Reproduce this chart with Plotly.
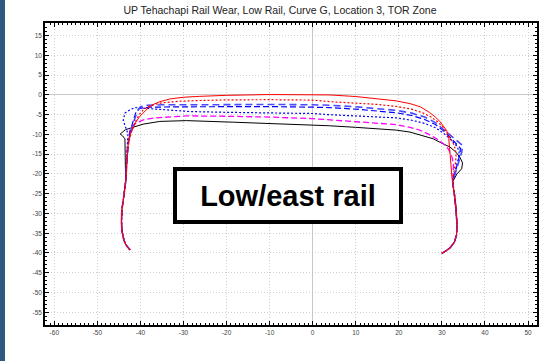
import plotly.graph_objects as go

TITLE = "UP Tehachapi Rail Wear, Low Rail, Curve G, Location 3, TOR Zone"
LABEL = "Low/east rail"

X_TICKS = [-60, -50, -40, -30, -20, -10, 0, 10, 20, 30, 40, 50]
Y_TICKS = [-55, -50, -45, -40, -35, -30, -25, -20, -15, -10, -5, 0, 5, 10, 15]

# shared gage/field side lower portions
LEFT_FOOT_X = [-42.4, -43.2, -43.8, -44.3, -44.4, -44.3, -44.0, -43.7, -43.4]
LEFT_FOOT_Y = [-39.2, -38.2, -36.9, -34.4, -32.0, -29.0, -26.8, -24.0, -21.7]
RIGHT_FOOT_X = [32.5, 32.9, 33.3, 33.5, 33.4, 32.9, 31.9, 30.9, 30.0]
RIGHT_FOOT_Y = [-22.0, -25.0, -29.0, -33.0, -35.5, -37.3, -38.7, -39.5, -40.1]

# head profiles (left side top -> across -> right side)
RED_SOLID_X = [-43.2, -43.0, -42.8, -42.3, -41.7, -41.0, -40.2, -39.3, -38.2, -37.0, -35.5, -33.1, -30.1, -26.2,
               -20.0, -10.0, 0.0, 4.0, 10.0, 14.5, 19.4, 22.6, 25.0, 27.1, 28.5, 29.6, 30.4, 31.1, 31.6, 31.9, 32.1, 32.3]
RED_SOLID_Y = [-18.0, -15.0, -11.6, -9.8, -8.2, -6.8, -5.5, -4.4, -3.3, -2.4, -1.7, -1.0, -0.6, -0.35,
               -0.1, 0.1, 0.1, 0.0, -0.4, -0.9, -1.5, -2.2, -3.0, -4.4, -5.6, -6.8, -7.9, -9.0, -11.0, -14.1, -17.5, -20.5]

RED_DOT_X = [-43.2, -43.0, -42.6, -42.0, -41.2, -40.3, -39.2, -37.5, -35.0, -31.0, -26.0, -20.0, -10.0, 0.0, 4.0,
             10.0, 15.0, 19.4, 23.0, 25.5, 27.5, 29.0, 30.3, 31.3, 32.2, 32.9, 33.3, 33.2, 32.8, 32.5]
RED_DOT_Y = [-18.0, -14.5, -11.5, -9.0, -6.8, -5.0, -3.6, -2.6, -2.0, -1.6, -1.4, -1.25, -1.2, -1.3, -1.7,
             -2.0, -2.4, -2.9, -3.6, -4.5, -5.6, -6.8, -8.2, -9.6, -11.2, -12.8, -14.8, -17.0, -19.5, -21.5]

BLUE_DASH_A_X = [-43.2, -43.0, -42.6, -42.0, -41.4, -40.8, -40.0, -38.5, -35.0, -28.0, -20.0, -10.0, 0.0, 3.9,
                 10.0, 15.0, 19.4, 23.0, 26.0, 28.5, 30.5, 32.3, 33.8, 34.8, 34.6, 34.0, 33.3, 32.7]
BLUE_DASH_A_Y = [-18.0, -14.0, -11.0, -8.5, -6.3, -4.3, -3.0, -2.6, -2.5, -2.5, -2.4, -2.4, -2.5, -2.6,
                 -3.0, -3.4, -3.9, -4.6, -5.6, -7.0, -8.8, -10.5, -12.0, -12.8, -14.5, -16.5, -18.8, -20.8]

BLUE_DASH_B_X = [-43.2, -43.0, -42.7, -42.2, -41.6, -41.0, -40.2, -38.0, -30.0, -20.0, -10.0, 0.0, 3.9,
                 10.0, 15.0, 19.4, 23.0, 26.0, 28.5, 30.5, 32.2, 33.6, 34.3, 34.2, 33.7, 33.1, 32.6]
BLUE_DASH_B_Y = [-18.0, -14.0, -11.0, -8.5, -6.0, -4.2, -3.4, -3.1, -3.0, -2.95, -2.95, -3.1, -3.2,
                 -3.6, -4.0, -4.5, -5.2, -6.2, -7.5, -9.2, -11.0, -12.5, -13.5, -15.0, -17.0, -19.2, -21.0]

BLUE_DOT_X = [-43.3, -43.1, -42.9, -42.9, -43.5, -44.0, -43.6, -42.5, -41.3, -40.0, -37.0, -33.0, -28.5, -20.0,
              -10.0, 0.0, 3.9, 10.0, 19.4, 23.0, 26.0, 28.5, 30.5, 32.2, 33.5, 34.0, 33.9, 33.5, 33.0, 32.6]
BLUE_DOT_Y = [-18.0, -14.0, -11.5, -9.8, -8.0, -6.5, -4.6, -3.8, -3.2, -3.3, -3.6, -3.9, -4.2, -4.4,
              -4.5, -4.7, -5.0, -5.3, -5.8, -6.4, -7.2, -8.3, -9.8, -11.4, -13.0, -14.3, -15.8, -17.5, -19.5, -21.0]

MAGENTA_X = [-43.3, -43.1, -42.6, -42.4, -41.2, -39.3, -36.5, -33.9, -29.3, -20.0, -10.0, 0.0, 3.9, 10.0,
             19.4, 22.6, 25.1, 27.0, 28.8, 30.3, 31.5, 32.3, 32.7, 32.6]
MAGENTA_Y = [-18.0, -14.0, -10.3, -8.6, -7.2, -6.3, -5.8, -5.6, -5.3, -5.4, -5.6, -6.0, -6.3, -6.7,
             -7.5, -8.2, -9.0, -10.0, -11.1, -12.3, -13.7, -15.5, -17.5, -20.0]

BLACK_X = [-43.5, -43.5, -43.6, -44.2, -44.7, -43.5, -41.7, -39.4, -35.5, -29.3, -18.4, -7.6, 0.0, 3.9, 10.0,
           19.4, 22.6, 25.1, 28.0, 29.6, 31.9, 33.3, 34.2, 34.8, 34.6, 33.5, 32.7]
BLACK_Y = [-18.0, -14.0, -11.1, -10.3, -9.9, -8.8, -8.2, -7.4, -6.7, -6.5, -6.9, -7.3, -7.5, -7.8, -8.2,
           -8.9, -9.4, -10.2, -11.1, -12.0, -13.2, -14.5, -15.8, -17.2, -18.7, -20.0, -21.7]

SERIES = [
    ("Profile 6", BLACK_X, BLACK_Y, "#000000", "solid", 1.0),
    ("Profile 5", MAGENTA_X, MAGENTA_Y, "#ff00ff", "6px,3px", 1.3),
    ("Profile 4", BLUE_DOT_X, BLUE_DOT_Y, "#0000ff", "2px,2px", 1.2),
    ("Profile 3", BLUE_DASH_B_X, BLUE_DASH_B_Y, "#0000ff", "6px,3px", 1.2),
    ("Profile 2", BLUE_DASH_A_X, BLUE_DASH_A_Y, "#4a4aff", "7px,4px", 1.6),
    ("Profile 1", RED_DOT_X, RED_DOT_Y, "#ff0000", "2px,2px", 1.2),
    ("Profile 0", RED_SOLID_X, RED_SOLID_Y, "#ff0000", "solid", 1.0),
]

fig = go.Figure()
for name, xs, ys, color, dash, w in SERIES:
    fig.add_trace(go.Scatter(
        x=LEFT_FOOT_X + xs + RIGHT_FOOT_X,
        y=LEFT_FOOT_Y + ys + RIGHT_FOOT_Y,
        mode="lines", name=name,
        line=dict(color=color, dash=dash, width=w),
        showlegend=False, hoverinfo="skip",
    ))

axis_common = dict(
    showline=True, linecolor="#000000", linewidth=1.5, mirror="ticks",
    ticks="inside", ticklen=4, tickwidth=1, tickcolor="#000000",
    showgrid=True, gridcolor="#cfcfcf", griddash="1px,2px", gridwidth=1,
    zeroline=True, zerolinecolor="#c8c8c8", zerolinewidth=1,
    tickfont=dict(family="Liberation Sans, Arial, sans-serif", size=6.5, color="#444444"),
    minor=dict(ticks="inside", ticklen=2, tickcolor="#000000", tickwidth=1, showgrid=False),
)

fig.update_xaxes(range=[-62.16, 52.09], tickmode="array", tickvals=X_TICKS,
                 ticktext=[str(v) for v in X_TICKS], **axis_common)
fig.update_xaxes(minor_dtick=1, minor_tick0=0)
fig.update_yaxes(range=[-58.23, 18.21], tickmode="array", tickvals=Y_TICKS,
                 ticktext=[str(v) for v in Y_TICKS], **axis_common)
fig.update_yaxes(minor_dtick=1, minor_tick0=0)

fig.add_annotation(
    x=-5.66, y=-25.4, xref="x", yref="y", text="<b>" + LABEL + "</b>", showarrow=False,
    font=dict(family="Liberation Sans, Arial, sans-serif", size=29, color="#000000"),
    bgcolor="#ffffff", bordercolor="#000000", borderwidth=4, borderpad=0,
    width=222, height=49, align="center", valign="middle",
)

fig.add_shape(type="rect", xref="paper", yref="paper",
              x0=-45 / 492, x1=-40 / 492, y0=-36 / 302, y1=1 + 23 / 302,
              fillcolor="#2e5a82", line=dict(width=0), layer="above")

fig.update_layout(
    width=555, height=361,
    margin=dict(l=45, r=18, t=23, b=36),
    paper_bgcolor="#ffffff", plot_bgcolor="#ffffff",
    title=dict(text=TITLE, x=0.5045, xref="container", xanchor="center",
               y=0.972, yref="container", yanchor="middle",
               font=dict(family="Liberation Sans, Arial, sans-serif", size=10.5, color="#222222")),
)

fig.write_html(
    "out.html",
    config={"displayModeBar": False},
    post_script="document.body.style.margin='0';document.body.style.overflow='hidden';",
)
